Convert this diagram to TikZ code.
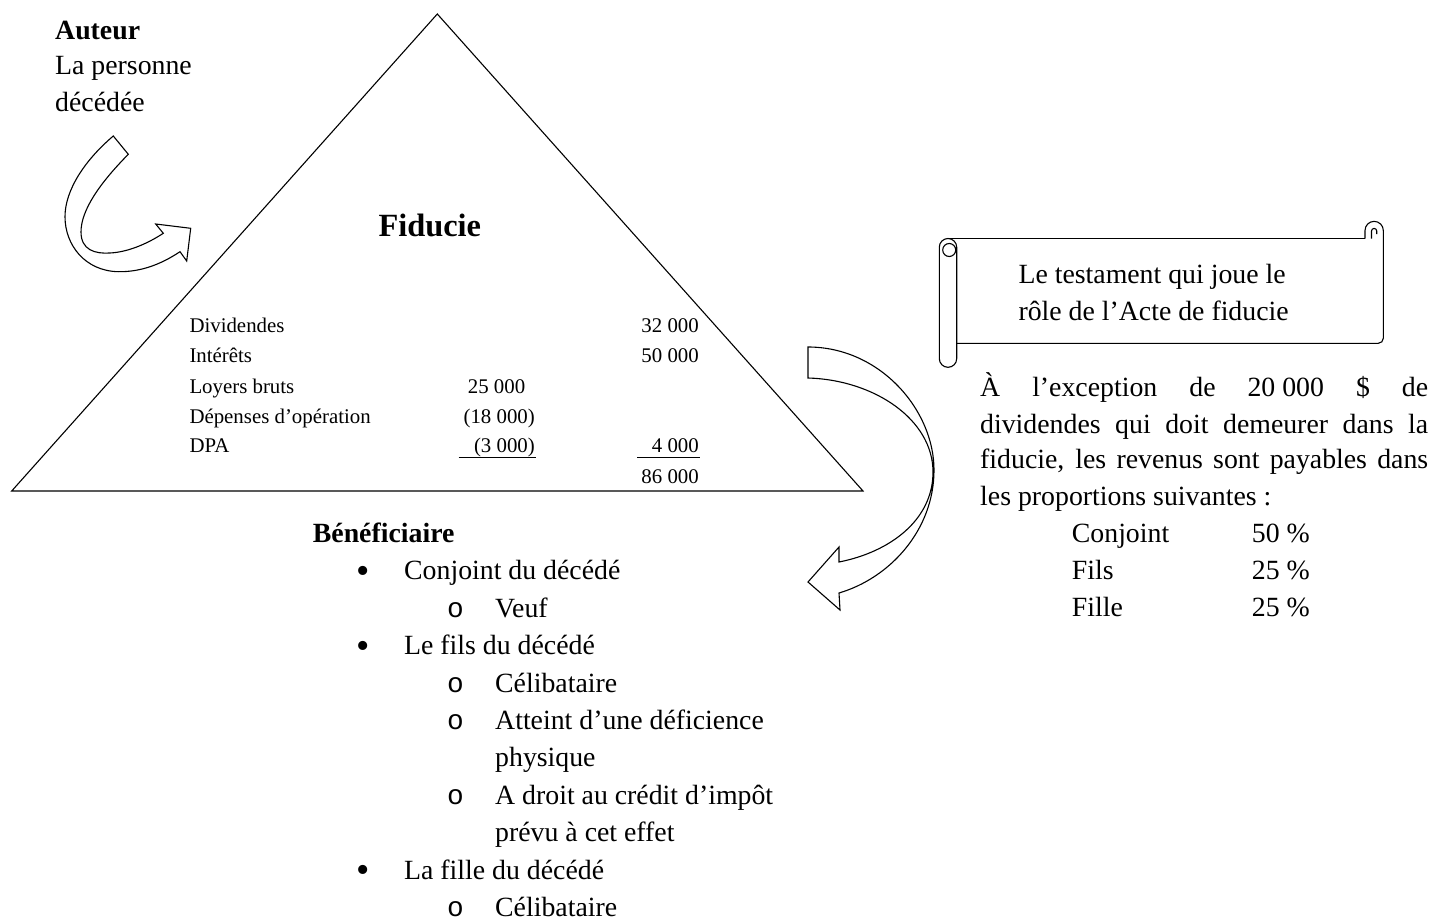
\documentclass[tikz,border=0pt]{standalone}
\usepackage{fontspec}
\setmainfont{Liberation Serif}
\newfontfamily\cournew{Liberation Mono}
\begin{document}
\begin{tikzpicture}[x=1pt,y=-1pt,
  txtbig/.style={font=\fontsize{27.8}{33}\selectfont, inner sep=0pt, anchor=base west},
  txtbold/.style={txtbig, font=\fontsize{27.8}{33}\selectfont\bfseries},
  txtsmall/.style={font=\fontsize{20.85}{25}\selectfont, inner sep=0pt, anchor=base west},
  txtsmallr/.style={txtsmall, anchor=base east},
  outl/.style={draw=black, line width=1.1pt, line join=miter},
  uline/.style={draw=black, line width=1.2pt},
  circ/.style={font=\cournew\fontsize{27.8}{33}\selectfont, inner sep=0pt, anchor=base west},
  bul/.style={font=\fontsize{38}{40}\selectfont, inner sep=0pt, anchor=base west}
]
\useasboundingbox[fill=white] (0,0) rectangle (1434,920);

% ---------- triangle ----------
\draw[outl] (437.3,14) -- (863,491) -- (11.7,491) -- cycle;

% ---------- Auteur ----------
\node[txtbold] (aut) at (55,39.3) {Auteur};
\node[txtbig] (aut2) at (55,75) {La personne};
\node[txtbig] (aut3) at (55,111.7) {décédée};

% ---------- left curved arrow ----------
\draw[outl] (113.3,136) -- (128.3,154.3)
  .. controls (100,183) and (81,210) .. (81,232)
  .. controls (81,250) and (95,254) .. (110,253)
  .. controls (130,252) and (150,242) .. (163.3,233.3)
  -- (155.7,224) -- (190.7,228.3) -- (186.7,261) -- (180,251.7)
  .. controls (160,265) and (140,272) .. (118.3,271.7)
  .. controls (85,271) and (65,245) .. (65,216.7)
  .. controls (65,190) and (85,160) .. cycle;

% ---------- Fiducie ----------
\node[inner sep=0pt, anchor=base west, font=\fontsize{32.4}{38}\selectfont\bfseries] (fid) at (378.3,236.7) {Fiducie};

% ---------- table in triangle ----------
\node[txtsmall] (l1) at (189.3,332) {Dividendes};
\node[txtsmall] (l2) at (189.3,362.5) {Intérêts};
\node[txtsmall] (l3) at (189.3,393) {Loyers bruts};
\node[txtsmall] (l4) at (189.3,423) {Dépenses d’opération};
\node[txtsmall] (l5) at (189.3,452.5) {DPA};

\node[txtsmallr] (m3) at (525.4,393) {25 000};
\node[txtsmallr] (m4) at (535,423) {(18 000)};
\node[txtsmallr] (m5) at (535,452.5) {(3 000)};
\coordinate (u1a) at (458.6,457.5);
\coordinate (u1b) at (536,457.5);
\draw[uline] (u1a) -- (u1b);

\node[txtsmallr] (r1) at (699,332) {32 000};
\node[txtsmallr] (r2) at (699,362.5) {50 000};
\node[txtsmallr] (r5) at (699,452.5) {4 000};
\node[txtsmallr] (r6) at (699,483) {86 000};
\coordinate (u2a) at (637,457.5);
\coordinate (u2b) at (699.5,457.5);
\draw[uline] (u2a) -- (u2b);

% ---------- right curved arrow ----------
\draw[outl] (808,347) -- (808,378)
  .. controls (875,380) and (933,420) .. (933,472)
  .. controls (933,520) and (890,552) .. (839,562)
  -- (839,547) -- (808,582) -- (840,610) -- (839,593)
  .. controls (890,578) and (934,530) .. (934,470)
  .. controls (934,410) and (880,347) .. cycle;

% ---------- scroll ----------
\draw[outl] (948,238.5) -- (1365,238.5);
\draw[outl, rounded corners=5pt] (956.7,343.3) -- (1383.3,343.3) -- (1383.3,230);
\draw[outl] (1383.3,230.5) arc (0:-180:9.15) -- (1365,238.5);
\draw[outl] (1371.5,238.5) -- (1371.5,231) arc (180:360:2.6) -- (1376.7,234);
\draw[outl, rounded corners=8.7pt] (939.3,238.5) rectangle (956.7,367.3);
\draw[outl] (949.2,250) circle (6.5);

\node[txtbig] (sc1) at (1018.3,283.3) {Le testament qui joue le};
\node[txtbig] (sc2) at (1018.3,320) {rôle de l’Acte de fiducie};

% ---------- right paragraph ----------
\node[txtbig] (p1) at (980,396.7) {\makebox[448pt][s]{À l’exception de \mbox{20 000} \$ de}};
\node[txtbig] (p2) at (980,433.3) {\makebox[448pt][s]{dividendes qui doit demeurer dans la}};
\node[txtbig] (p3) at (980,468.3) {\makebox[448pt][s]{fiducie, les revenus sont payables dans}};
\node[txtbig] (p4) at (980,505) {les proportions suivantes :};

\node[txtbig] (t1a) at (1071.7,542.7) {Conjoint};
\node[txtbig] (t1b) at (1251.7,542.7) {50 \%};
\node[txtbig] (t2a) at (1071.7,579.3) {Fils};
\node[txtbig] (t2b) at (1251.7,579.3) {25 \%};
\node[txtbig] (t3a) at (1071.7,616.7) {Fille};
\node[txtbig] (t3b) at (1251.7,616.7) {25 \%};

% ---------- beneficiaries ----------
\node[txtbold] (ben) at (312.7,542.3) {Bénéficiaire};

\node[bul] (b1) at (356,583.2) {•};
\node[txtbig] (b1t) at (404,579.7) {Conjoint du décédé};
\node[circ] (c1) at (447,617.2) {o};
\node[txtbig] (c1t) at (495,617.2) {Veuf};
\node[bul] (b2) at (356,658.1) {•};
\node[txtbig] (b2t) at (404,654.6) {Le fils du décédé};
\node[circ] (c2) at (447,692.1) {o};
\node[txtbig] (c2t) at (495,692.1) {Célibataire};
\node[circ] (c3) at (447,729.5) {o};
\node[txtbig] (c3t) at (495,729.5) {Atteint d’une déficience};
\node[txtbig] (c3u) at (495,766.9) {physique};
\node[circ] (c4) at (447,804.4) {o};
\node[txtbig] (c4t) at (495,804.4) {A droit au crédit d’impôt};
\node[txtbig] (c4u) at (495,841.8) {prévu à cet effet};
\node[bul] (b3) at (356,882.8) {•};
\node[txtbig] (b3t) at (404,879.3) {La fille du décédé};
\node[circ] (c5) at (447,916.7) {o};
\node[txtbig] (c5t) at (495,916.7) {Célibataire};
\end{tikzpicture}
\end{document}
